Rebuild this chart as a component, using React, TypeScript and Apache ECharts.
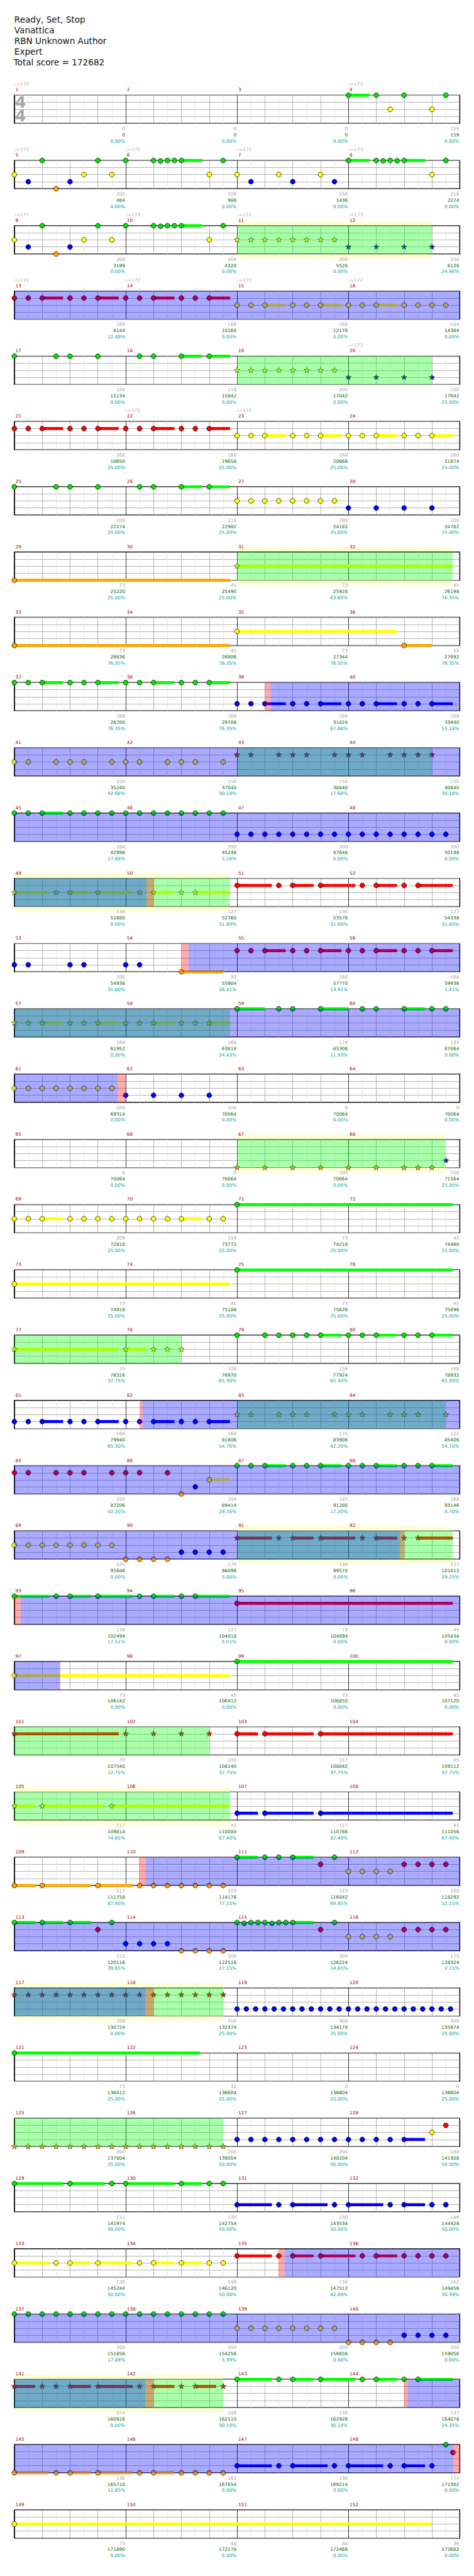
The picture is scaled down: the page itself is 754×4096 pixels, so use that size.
import React, { useEffect, useRef } from 'react';
import * as echarts from 'echarts';

// ---------- layout (reference px * S) ----------
const S = 0.736;
const LEFT = 31 * S;
const WIDTH = 962.7 * S;
const TOP0 = 205.7 * S;
const ROW_GAP = 140.99 * S;
const STAFF_H = 61 * S;
const ROWS = 38;
const FONT = '"DejaVu Sans", sans-serif';

// ---------- texts ----------
const TITLE_LINES = ['Ready, Set, Stop', 'Vanattica', 'RBN Unknown Author', 'Expert', 'Total score = 172682'];
const TIME_SIGNATURE = ['4', '4'];

// lanes: 0 green, 1 red, 2 yellow, 3 blue, 4 orange
const NOTE_COLORS = ['#00e400', '#ff0000', '#ffff00', '#0000ff', '#ffa500'];
const SUSTAIN_COLORS = ['#00ff00', '#ff0000', '#ffff00', '#0000ff', '#ffa500'];
const X_LINE_COLORS = ['#000000', '#e2e2e2', '#a0a0a0', '#e2e2e2', '#a0a0a0', '#e2e2e2', '#a0a0a0', '#e2e2e2'];

// ---------- per-measure numbers ----------
const MEASURE_SCORES = [
  0, 0, 0, 159, 200, 209, 150, 218, 200, 209, 200, 100, 168, 168, 168, 184,
  100, 118, 200, 100, 168, 168, 168, 168, 100, 118, 200, 100, 73, 45, 73, 45,
  73, 45, 73, 58, 168, 168, 168, 168, 150, 150, 150, 150, 184, 200, 200, 200,
  136, 127, 136, 127, 100, 93, 168, 168, 168, 168, 124, 134, 200, 100, 0, 0,
  0, 0, 100, 150, 209, 159, 73, 45, 73, 45, 73, 45, 70, 109, 159, 168,
  168, 168, 175, 125, 150, 184, 143, 168, 225, 175, 136, 127, 136, 127, 73, 45,
  73, 45, 73, 45, 70, 100, 117, 45, 117, 45, 117, 45, 117, 203, 143, 200,
  152, 200, 309, 175, 200, 200, 300, 300, 73, 32, 0, 0, 200, 200, 200, 184,
  111, 130, 130, 149, 136, 146, 136, 162, 200, 200, 200, 200, 155, 146, 136, 127,
  136, 162, 130, 174, 73, 48, 48, 36,
];
const TOTAL_SCORES = [
  0, 0, 0, 159, 484, 986, 1436, 2274, 3199, 4328, 5528, 6128, 8144, 10160, 12176, 14384,
  15134, 15842, 17042, 17642, 18650, 19658, 20666, 21674, 22274, 22982, 24182, 24782, 25220, 25490, 25928, 26198,
  26636, 26906, 27344, 27692, 28700, 29708, 31424, 33440, 35240, 37040, 38840, 40640, 42998, 45248, 47648, 50198,
  51680, 52760, 53576, 54338, 54938, 55904, 57770, 59936, 61952, 63818, 65306, 67064, 69314, 70064, 70064, 70064,
  70064, 70064, 70664, 71564, 72818, 73772, 74210, 74480, 74918, 75188, 75626, 75896, 76316, 76970, 77924, 78932,
  79940, 81806, 83906, 85406, 87206, 89414, 91280, 93146, 95846, 98096, 99578, 101012, 102494, 104018, 104894, 105434,
  106142, 106412, 106850, 107120, 107540, 108140, 108842, 109112, 109814, 110084, 110786, 111056, 111758, 114176, 116042, 118292,
  120116, 122516, 126224, 128324, 130724, 132374, 134174, 135974, 136412, 136604, 136604, 136604, 137804, 139004, 140204, 141308,
  141974, 142754, 143534, 144428, 145244, 146120, 147512, 149456, 151856, 154256, 156656, 159056, 160916, 162110, 162926, 164078,
  165710, 167654, 169214, 171302, 171890, 172178, 172466, 172682,
];
const PERCENTS = [
  0, 0, 0, 0, 0, 0, 0, 0, 0, 0, 0, 24.98, 12.48, 0, 0, 0,
  0, 0, 0, 25, 25, 25, 25, 25, 25, 25, 25, 25, 25, 25, 63.6, 76.35,
  76.35, 76.35, 76.35, 76.35, 76.35, 76.35, 67.68, 55.18, 42.68, 30.18, 17.68, 30.18, 17.68, 5.18, 0, 0,
  0, 31.8, 31.8, 31.8, 31.8, 26.41, 13.91, 1.41, 0, 24.43, 11.93, 0, 0, 0, 0, 0,
  0, 0, 0, 25, 25, 25, 25, 25, 25, 25, 25, 25, 37.75, 65.3, 65.3, 65.3,
  65.3, 54.7, 42.2, 54.7, 42.2, 29.7, 17.2, 4.7, 0, 0, 0, 29.25, 17.51, 5.01, 0, 0,
  0, 0, 0, 0, 12.75, 37.75, 37.75, 37.75, 74.65, 87.4, 87.4, 87.4, 87.4, 77.15, 64.65, 52.15,
  39.65, 27.15, 14.65, 2.15, 0, 25, 25, 25, 25, 25, 25, 25, 25, 50, 50, 50,
  50, 50, 50, 50, 50, 50, 42.89, 30.39, 17.89, 5.39, 0, 0, 0, 30.1, 30.1, 24.35,
  11.85, 0, 0, 0, 0, 0, 0, 0,
];
// [measure, bpm]
const TEMPOS = [
  [1, 172], [4, 172], [5, 172], [6, 172], [7, 172], [8, 173], [9, 171], [10, 173], [11, 171], [12, 172],
  [13, 172], [14, 172], [15, 172], [16, 172], [20, 172], [22, 172], [23, 172],
];

// ---------- notes: per row (4 measures = 64 sixteenths): [pos16, lane, sustainEnd16?] ----------
const NOTE_ROWS: number[][][] = [
  [[48, 0, 51], [52, 0], [54, 2], [56, 0], [60, 2], [62, 0]],
  [[0, 2], [2, 3], [4, 0], [6, 4], [8, 3], [10, 2], [12, 0], [14, 2], [16, 0], [20, 0], [21, 0], [22, 0], [23, 0], [24, 0, 27], [28, 2], [30, 0],
   [32, 2], [34, 3], [38, 2], [40, 3], [44, 2], [46, 3], [48, 0, 51], [52, 0], [53, 0], [54, 0], [55, 0], [56, 0, 59], [60, 2], [62, 0]],
  [[0, 2], [2, 3], [4, 0], [6, 4], [8, 3], [10, 2], [12, 0], [14, 2], [16, 0], [20, 0], [21, 0], [22, 0], [23, 0], [24, 0, 27], [28, 2], [30, 0],
   [32, 2], [34, 2], [36, 2], [38, 2], [40, 2], [42, 2], [44, 2], [46, 2], [48, 3], [52, 3], [56, 3], [60, 3]],
  [[0, 1], [2, 1], [4, 1, 7], [8, 1], [10, 1], [12, 1, 15], [16, 1], [18, 1], [20, 1, 23], [24, 1], [26, 1], [28, 1, 31],
   [32, 2], [34, 2], [36, 2, 39], [40, 2], [42, 2], [44, 2, 47], [48, 2], [50, 2], [52, 2, 55], [56, 2], [58, 2], [60, 2], [62, 2]],
  [[0, 0], [6, 0], [8, 0], [12, 0], [18, 0], [20, 0], [24, 0, 27], [28, 0, 31],
   [32, 2], [34, 2], [36, 2], [38, 2], [40, 2], [42, 2], [44, 2], [46, 2], [48, 3], [52, 3], [56, 3], [60, 3]],
  [[0, 1], [2, 1], [4, 1, 7], [8, 1], [10, 1], [12, 1, 15], [16, 1], [18, 1], [20, 1, 23], [24, 1], [26, 1], [28, 1, 31],
   [32, 2], [34, 2], [36, 2, 39], [40, 2], [42, 2], [44, 2, 47], [48, 2], [50, 2], [52, 2, 55], [56, 2], [58, 2], [60, 2, 63]],
  [[0, 0], [6, 0], [8, 0], [12, 0], [18, 0], [20, 0], [24, 0, 27], [28, 0, 31],
   [32, 2], [34, 2], [36, 2], [38, 2], [40, 2], [42, 2], [44, 2], [46, 2], [48, 3], [52, 3], [56, 3], [60, 3]],
  [[0, 4, 31], [32, 2, 63]],
  [[0, 4, 31], [32, 2, 55], [56, 4, 60]],
  [[0, 0], [2, 0], [4, 0, 7], [8, 0], [10, 0], [12, 0, 15], [16, 0], [18, 0], [20, 0, 23], [24, 0], [26, 0], [28, 0, 31],
   [32, 3], [34, 3], [36, 3, 39], [40, 3], [42, 3], [44, 3, 47], [48, 3], [50, 3], [52, 3, 55], [56, 3], [58, 3], [60, 3, 63]],
  [[0, 2], [2, 2], [6, 2], [8, 2], [10, 2], [14, 2], [16, 2], [18, 2], [22, 2], [24, 2], [26, 2], [30, 2],
   [32, 1], [34, 1], [38, 1], [40, 1], [42, 1], [46, 1], [48, 1], [50, 1], [54, 1], [56, 1], [58, 1], [60, 1]],
  [[0, 0], [2, 0], [4, 0, 7], [8, 0], [10, 0], [12, 0], [14, 0], [16, 0], [18, 0], [20, 0], [22, 0], [24, 0], [26, 0], [28, 0], [30, 0],
   [32, 3], [34, 3], [36, 3], [38, 3], [40, 3], [42, 3], [44, 3], [46, 3], [48, 3], [50, 3], [52, 3], [54, 3], [56, 3], [58, 3], [60, 3], [62, 3]],
  [[0, 2, 5], [6, 2], [8, 2, 11], [12, 2, 17], [18, 2], [20, 2, 23], [24, 2], [26, 2, 31],
   [32, 1, 37], [38, 1], [40, 1, 43], [44, 1, 49], [50, 1], [52, 1, 55], [56, 1], [58, 1, 63]],
  [[0, 3], [2, 3], [8, 3], [10, 3], [16, 3], [18, 3], [24, 4, 30],
   [32, 1], [34, 1], [36, 1, 39], [40, 1], [42, 1], [44, 1, 47], [48, 1], [50, 1], [52, 1, 55], [56, 1], [58, 1], [60, 1, 63]],
  [[0, 2], [2, 2], [4, 2, 7], [8, 2], [10, 2], [12, 2, 15], [16, 2], [18, 2], [20, 2, 23], [24, 2], [26, 2], [28, 2, 31],
   [32, 0, 36], [38, 0], [40, 0], [44, 0, 48], [50, 0], [52, 0], [56, 0, 59], [60, 0], [62, 0]],
  [[0, 2], [2, 2], [4, 2], [6, 2], [8, 2], [10, 2], [12, 2], [14, 2], [16, 3], [20, 3], [24, 3], [28, 3]],
  [[32, 4], [36, 4], [40, 4], [44, 4], [48, 4], [52, 4], [56, 4], [58, 4], [60, 4], [62, 3]],
  [[0, 2], [2, 2], [4, 2, 7], [8, 2], [10, 2], [12, 2], [14, 2], [16, 2], [18, 2], [20, 2], [22, 2], [24, 2, 27], [28, 2], [30, 2], [32, 0, 63]],
  [[0, 2, 31], [32, 0, 63]],
  [[0, 2, 15], [16, 2, 19], [20, 2], [22, 2], [24, 2],
   [32, 0], [36, 0], [38, 0], [40, 0], [42, 0], [44, 0, 47], [48, 0], [50, 0], [52, 0, 55], [56, 0], [58, 0], [60, 0, 63]],
  [[0, 3], [2, 3], [4, 3, 7], [8, 3], [10, 3], [12, 3, 15], [16, 3], [18, 3], [20, 3, 23], [24, 3], [26, 3], [28, 3, 31],
   [32, 2], [34, 2], [38, 2], [40, 2], [42, 2], [46, 2], [48, 2], [50, 2], [54, 2], [56, 2], [58, 2], [62, 2]],
  [[0, 1], [2, 1], [6, 1], [8, 1], [10, 1], [14, 1], [16, 1], [18, 1], [22, 1], [24, 4], [26, 3], [28, 2, 31],
   [32, 0], [34, 0], [36, 0, 39], [40, 0], [42, 0], [44, 0, 47], [48, 0], [50, 0], [52, 0, 55], [56, 0], [58, 0], [60, 0, 63]],
  [[0, 2], [2, 2], [4, 2], [6, 2], [8, 2], [10, 2], [12, 2], [14, 2], [16, 4], [18, 4], [20, 4], [22, 4], [24, 3], [26, 3], [28, 3], [30, 3],
   [32, 1, 37], [38, 1], [40, 1, 43], [44, 1, 49], [50, 1], [52, 1, 55], [56, 1], [58, 1, 63]],
  [[0, 0, 5], [6, 0], [8, 0, 11], [12, 0, 17], [18, 0], [20, 0, 23], [24, 0], [26, 0, 31], [32, 1, 63]],
  [[0, 2, 31], [32, 0, 63]],
  [[0, 1, 15], [16, 1], [20, 1], [24, 1], [28, 1], [32, 1, 35], [36, 1, 43], [44, 1, 63]],
  [[0, 2, 3], [4, 2, 13], [14, 2, 31], [32, 3, 35], [36, 3, 43], [44, 3, 63]],
  [[0, 4, 3], [4, 4, 11], [12, 4, 17], [18, 4], [20, 4], [22, 4], [24, 4], [26, 4], [28, 4], [30, 4],
   [32, 0, 35], [36, 0], [38, 0], [40, 0, 43], [44, 1], [46, 0], [48, 2], [50, 2], [52, 2], [54, 2], [56, 1], [58, 1], [60, 1], [62, 1]],
  [[0, 0, 3], [4, 0, 7], [8, 0, 11], [12, 1], [14, 0], [16, 3], [18, 3], [20, 3], [22, 3], [24, 4], [26, 4], [28, 4], [30, 4],
   [32, 0], [33, 0], [34, 0], [35, 0], [36, 0], [37, 0], [38, 0], [39, 0], [40, 0, 43], [44, 1], [46, 0],
   [48, 2], [50, 2], [52, 2], [54, 2], [56, 1], [58, 1], [60, 1], [62, 1]],
  [[0, 1], [2, 1], [4, 1], [6, 1], [8, 1], [10, 1], [12, 1], [14, 1], [16, 1], [18, 1], [20, 1], [22, 1], [24, 1], [26, 1], [28, 1], [30, 1],
   [32, 3], [33.33, 3], [34.67, 3], [36, 3], [37.33, 3], [38.67, 3], [40, 3], [41.33, 3], [42.67, 3], [44, 3], [45.33, 3], [46.67, 3],
   [48, 3], [49.33, 3], [50.67, 3], [52, 3], [53.33, 3], [54.67, 3], [56, 3], [57.33, 3], [58.67, 3], [60, 3], [61.33, 3], [62.67, 3]],
  [[0, 0, 26.67]],
  [[0, 4], [2, 4], [4, 4], [6, 4], [8, 4], [10, 4], [12, 4], [14, 4], [16, 4], [18, 4], [20, 4], [22, 4], [24, 4], [26, 4], [28, 4], [30, 4],
   [32, 3], [34, 3], [36, 3], [38, 3], [40, 3], [42, 3], [44, 3], [46, 3], [48, 3], [50, 3], [52, 3], [54, 3], [56, 3, 59], [60, 2], [62, 1]],
  [[0, 0, 7], [8, 0, 13], [14, 0], [16, 0, 23], [24, 0, 27], [28, 0], [30, 0],
   [32, 3, 37], [38, 3], [40, 3, 45], [46, 3], [48, 3, 53], [54, 3], [56, 3, 59], [60, 3], [62, 3]],
  [[0, 2, 5], [6, 2], [8, 2, 11], [12, 2, 17], [18, 2], [20, 2, 23], [24, 2, 27], [28, 2], [30, 2],
   [32, 1, 37], [38, 1], [40, 1, 43], [44, 1, 49], [50, 1], [52, 1, 55], [56, 1], [58, 1], [60, 1], [62, 1]],
  [[0, 0], [2, 0], [4, 0], [6, 0], [8, 0], [10, 0], [12, 0], [14, 0], [16, 0], [18, 0], [20, 0], [22, 0], [24, 0], [26, 0], [28, 0], [30, 0],
   [32, 2], [34, 2], [36, 2], [38, 2], [40, 2], [42, 2], [44, 2], [46, 2], [48, 4], [50, 4], [52, 4], [54, 4], [56, 3], [58, 3], [60, 3], [62, 3]],
  [[0, 1, 3], [4, 1], [6, 1], [8, 1, 11], [12, 1, 17], [18, 1], [20, 1, 23], [24, 1], [26, 1, 29], [30, 1],
   [32, 0, 37], [38, 0], [40, 0, 43], [44, 0, 49], [50, 0], [52, 0, 55], [56, 0], [58, 0, 63]],
  [[0, 4, 5], [6, 4], [8, 4, 11], [12, 4, 17], [18, 4], [20, 4, 23], [24, 4], [26, 4], [28, 4], [30, 4],
   [32, 3, 37], [38, 3], [40, 3, 45], [46, 3], [48, 3, 53], [54, 3], [56, 3, 59], [60, 3], [62, 0], [63, 1]],
  [[0, 2, 60]],
];

// ---------- regions: [row, start16, end16] ----------
const SP_PHRASES = [
  [2, 32, 60], [4, 32, 60], [7, 32, 63], [10, 32, 60], [12, 0, 31], [14, 0, 31], [16, 32, 62], [19, 0, 24],
  [20, 32, 62], [22, 32, 63], [25, 0, 28], [26, 0, 31], [29, 0, 30], [31, 0, 30], [35, 0, 30],
];
const SP_BANDS = [
  [2, 32, 60], [7, 32, 63], [12, 0, 31], [16, 32, 62], [22, 32, 63], [26, 0, 31], [29, 0, 30], [35, 0, 30],
];
const OVERDRIVE = [
  [3, 0, 64], [9, 36.8, 64], [10, 0, 64], [11, 0, 64], [12, 0, 19], [13, 25, 64], [14, 0, 64], [15, 0, 14.85],
  [20, 18.4, 64], [21, 0, 64], [22, 0, 55.4], [23, 0.9, 64], [24, 0, 6.6], [27, 18.85, 64], [28, 0, 64],
  [29, 0, 18.85], [33, 38.8, 64], [34, 0, 64], [35, 0, 18.85], [35, 56.5, 64], [36, 0, 63.1],
];
const ACTIVATIONS = [
  [9, 36, 36.8], [12, 19, 20], [13, 24, 25], [15, 14.85, 16], [20, 18, 18.4], [22, 55.4, 56], [23, 0, 0.9],
  [27, 17.9, 18.85], [29, 18.85, 20], [33, 37.95, 38.8], [35, 18.85, 20], [35, 56, 56.5], [36, 63.1, 64],
];

const OVERLAY_COLORS = ['rgba(0,255,0,0.333)', 'rgba(0,0,255,0.333)', 'rgba(255,0,0,0.333)'];
const BAND_COLOR = '#ffffd2';
const BAND_PAD = 10 * S;
const NOTE_R = 5.3 * S;
const STAR_R = 6.4 * S;
const SUS_H = 6.4 * S;
const LABEL_SIZE = 10 * S;

function starPoints(cx: number, cy: number) {
  const pts: number[][] = [];
  for (let i = 0; i < 10; i++) {
    const rr = i % 2 === 0 ? STAR_R : STAR_R * 0.42;
    const a = -Math.PI / 2 + (i * Math.PI) / 5;
    pts.push([cx + rr * Math.cos(a), cy + rr * Math.sin(a)]);
  }
  return pts;
}

function isStar(row: number, k: number) {
  return SP_PHRASES.some((p) => p[0] === row && k >= p[1] - 0.01 && k <= p[2] + 0.01);
}

function txt(text: string, x: number, y: number, fill: string, align: string, size = LABEL_SIZE) {
  return {
    type: 'text',
    style: {
      text, x, y, fill,
      fontSize: size, fontFamily: FONT,
      align, verticalAlign: 'middle', textAlign: align, textVerticalAlign: 'middle',
    },
  };
}

function buildOption() {
  const grid: any[] = [];
  const xAxis: any[] = [];
  const yAxis: any[] = [];
  const series: any[] = [];

  for (let r = 0; r < ROWS; r++) {
    const top = TOP0 + r * ROW_GAP;
    grid.push({ left: LEFT, top, width: WIDTH, height: STAFF_H, show: true, borderColor: '#000', borderWidth: 1.4, backgroundColor: 'rgba(0,0,0,0)' });
    xAxis.push({
      gridIndex: r, type: 'value', min: 0, max: 64, interval: 2,
      axisLine: { show: false }, axisTick: { show: false }, axisLabel: { show: false },
      splitLine: { show: true, lineStyle: { color: X_LINE_COLORS, width: 0.8 } },
    });
    yAxis.push({
      gridIndex: r, type: 'value', min: 0, max: 4, interval: 1, inverse: true,
      axisLine: { show: false }, axisTick: { show: false }, axisLabel: { show: false },
      splitLine: { show: true, lineStyle: { color: '#a0a0a0', width: 0.8 } },
    });

    const bands = SP_BANDS.filter((b) => b[0] === r).map((b) => [b[1], b[2]]);
    if (bands.length) {
      series.push({
        type: 'custom', xAxisIndex: r, yAxisIndex: r, z: 1, clip: false, silent: true,
        data: bands,
        renderItem: (_p: any, api: any) => {
          const a = api.coord([api.value(0), 0]);
          const b = api.coord([api.value(1), 4]);
          return {
            type: 'group',
            children: [
              { type: 'rect', shape: { x: a[0], y: a[1] - BAND_PAD, width: b[0] - a[0], height: BAND_PAD - 0.7 }, style: { fill: BAND_COLOR } },
              { type: 'rect', shape: { x: a[0], y: b[1] + 0.7, width: b[0] - a[0], height: BAND_PAD - 0.7 }, style: { fill: BAND_COLOR } },
            ],
          };
        },
      });
    }

    const notes = NOTE_ROWS[r].map((n) => [n[0], n[1], n[2] || 0, isStar(r, n[0]) ? 1 : 0]);
    series.push({
      type: 'custom', xAxisIndex: r, yAxisIndex: r, z: 3, clip: false, silent: true,
      data: notes,
      renderItem: (_p: any, api: any) => {
        const k = api.value(0);
        const lane = api.value(1);
        const sus = api.value(2);
        const star = api.value(3);
        const c = api.coord([k, lane]);
        const children: any[] = [];
        if (sus > 0) {
          const e = api.coord([sus, lane]);
          children.push({ type: 'rect', shape: { x: c[0], y: c[1] - SUS_H / 2, width: e[0] - c[0], height: SUS_H }, style: { fill: SUSTAIN_COLORS[lane] } });
        }
        if (star) {
          children.push({ type: 'polygon', shape: { points: starPoints(c[0], c[1]) }, style: { fill: NOTE_COLORS[lane], stroke: '#1a1a1a', lineWidth: 0.6 } });
        } else {
          children.push({ type: 'circle', shape: { cx: c[0], cy: c[1], r: NOTE_R }, style: { fill: NOTE_COLORS[lane], stroke: '#000', lineWidth: 0.7 } });
        }
        return { type: 'group', children };
      },
    });

    const overlays = [
      ...SP_PHRASES.filter((p) => p[0] === r).map((p) => [p[1], p[2], 0]),
      ...OVERDRIVE.filter((p) => p[0] === r).map((p) => [p[1], p[2], 1]),
      ...ACTIVATIONS.filter((p) => p[0] === r).map((p) => [p[1], p[2], 2]),
    ];
    if (overlays.length) {
      series.push({
        type: 'custom', xAxisIndex: r, yAxisIndex: r, z: 5, clip: false, silent: true,
        data: overlays,
        renderItem: (_p: any, api: any) => {
          const a = api.coord([api.value(0), 0]);
          const b = api.coord([api.value(1), 4]);
          return { type: 'rect', shape: { x: a[0], y: a[1], width: b[0] - a[0], height: b[1] - a[1] }, style: { fill: OVERLAY_COLORS[api.value(2)] } };
        },
      });
    }

    const labels = [0, 1, 2, 3].map((mi) => {
      const m = r * 4 + mi + 1;
      const t = TEMPOS.find((tp) => tp[0] === m);
      return [mi * 16, m, MEASURE_SCORES[m - 1], TOTAL_SCORES[m - 1], PERCENTS[m - 1], t ? t[1] : 0];
    });
    series.push({
      type: 'custom', xAxisIndex: r, yAxisIndex: r, z: 6, clip: false, silent: true,
      data: labels,
      renderItem: (_p: any, api: any) => {
        const x0 = api.value(0);
        const a = api.coord([x0, 0]);
        const b = api.coord([x0 + 16, 0]);
        const tempo = api.value(5);
        const children: any[] = [
          txt(String(api.value(1)), a[0] + 1.8, a[1] - 8.5, '#990000', 'left'),
          txt(String(api.value(2)), b[0] - 1, a[1] + 53.2, '#a0a0a0', 'right'),
          txt(String(api.value(3)), b[0] - 1, a[1] + 63.1, '#006400', 'right'),
          txt(Number(api.value(4)).toFixed(2) + '%', b[0] - 1, a[1] + 72.9, '#009c9c', 'right'),
        ];
        if (tempo) children.push(txt('\u2669=' + tempo, a[0] - 0.5, a[1] - 17.7, '#aaaaaa', 'left'));
        return { type: 'group', children };
      },
    });
  }

  const titleY = [42.2, 65.3, 88.3, 111.2, 134.2];
  const graphic: any[] = TITLE_LINES.map((t, i) => ({
    type: 'text', x: (i === 4 ? 29.3 : 31) * S, y: titleY[i] * S, z: 10,
    style: { text: t, fill: '#111', fontSize: 18.5 * S, fontFamily: FONT, verticalAlign: 'middle', textVerticalAlign: 'middle' },
  }));
  TIME_SIGNATURE.forEach((d, i) => {
    graphic.push({
      type: 'text', x: 44.5 * S, y: TOP0 + (i === 0 ? 15.1 : 45.1) * S, z: 10,
      style: { text: d, fill: '#a8a8a8', fontSize: 34 * S, fontWeight: 'bold', fontFamily: FONT, align: 'center', verticalAlign: 'middle', textAlign: 'center', textVerticalAlign: 'middle' },
    });
  });

  return { animation: false, backgroundColor: '#ffffff', grid, xAxis, yAxis, series, graphic };
}

export default function App() {
  const ref = useRef<HTMLDivElement>(null);
  useEffect(() => {
    document.body.style.margin = '0';
    const chart = echarts.init(ref.current!, null, { renderer: 'svg' });
    chart.setOption(buildOption() as any);
    return () => chart.dispose();
  }, []);
  return <div ref={ref} style={{ width: 754, height: 4096 }} />;
}
